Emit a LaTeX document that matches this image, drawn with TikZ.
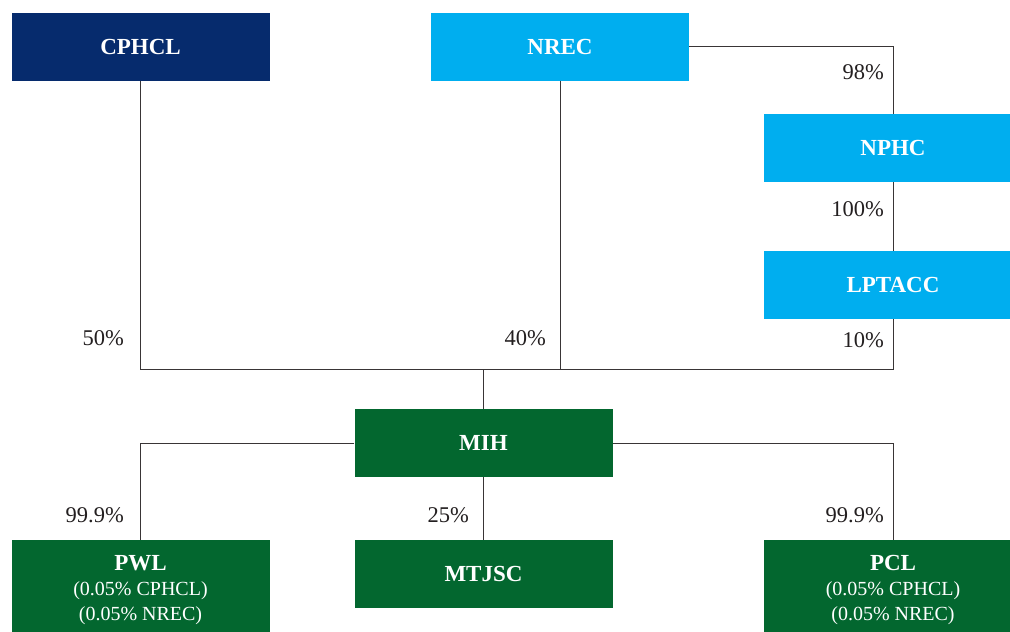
\documentclass[tikz,border=0pt]{standalone}
\usepackage{fontspec}
\setmainfont{Liberation Serif}
\usetikzlibrary{positioning}

\definecolor{navyco}{HTML}{062B6D}
\definecolor{skyco}{HTML}{00AEEF}
\definecolor{greenco}{HTML}{03672F}
\definecolor{inkco}{HTML}{231F20}

\tikzset{
    company/.style = {fill=#1, text=white, minimum width=258pt, minimum height=68pt,
        inner sep=0pt, align=center, font=\fontsize{23}{26}\selectfont\bfseries},
    link/.style = {draw=inkco!90, line width=0.9pt},
    pct/.style = {anchor=east, text=inkco, inner sep=0pt, font=\fontsize{22.5}{26}\selectfont}
}

\begin{document}
\begin{tikzpicture}[x=1pt, y=-1pt]
    \useasboundingbox (0,0) rectangle (1010,632);
    % owners
    \node[company=navyco] (cphcl) at (140.5,46.5) {CPHCL};
    \node[company=skyco] (nrec) at (560,46.5) {NREC};
    \node[company=skyco] (nphc) at (893,148) {NPHC};
    \node[company=skyco] (lptacc) at (893,285) {LPTACC};
    % holding and subsidiaries
    \node[company=greenco] (mih) at (483.5,443) {MIH};
    \node[company=greenco] (mtjsc) at (483.5,574) {MTJSC};
    \node[company=greenco, minimum height=100pt, font=\fontsize{20}{25}\selectfont] (pwl) at (140.5,590)
        {{\fontsize{23}{25}\selectfont\bfseries PWL}\\(0.05\% CPHCL)\\(0.05\% NREC)};
    \node[company=greenco, minimum height=100pt, font=\fontsize{20}{25}\selectfont] (pcl) at (893,590)
        {{\fontsize{23}{25}\selectfont\bfseries PCL}\\(0.05\% CPHCL)\\(0.05\% NREC)};
    \coordinate (j) at (483.5,369);

    \draw[link] (cphcl.south) |- (j);
    \draw[link] (lptacc.south) |- (j);
    \draw[link] (nrec.south) -- (nrec.south |- j);
    \draw[link] (j) -- (mih.north);
    \draw[link] (nrec.east) -| (nphc.north);
    \draw[link] (nphc) -- (lptacc);
    \draw[link] (mih.west) -| (pwl.north);
    \draw[link] (mih.east) -| (pcl.north);
    \draw[link] (mih) -- (mtjsc);

    % shares
    \node[pct] (p98) at (884,72) {98\%};
    \node[pct] (p100) at (884,209) {100\%};
    \node[pct] (p10) at (884,340) {10\%};
    \node[pct] (p50) at (124,338) {50\%};
    \node[pct] (p40) at (546,338) {40\%};
    \node[pct] (p999a) at (124,515) {99.9\%};
    \node[pct] (p25) at (469,515) {25\%};
    \node[pct] (p999b) at (884,515) {99.9\%};
\end{tikzpicture}
\end{document}
